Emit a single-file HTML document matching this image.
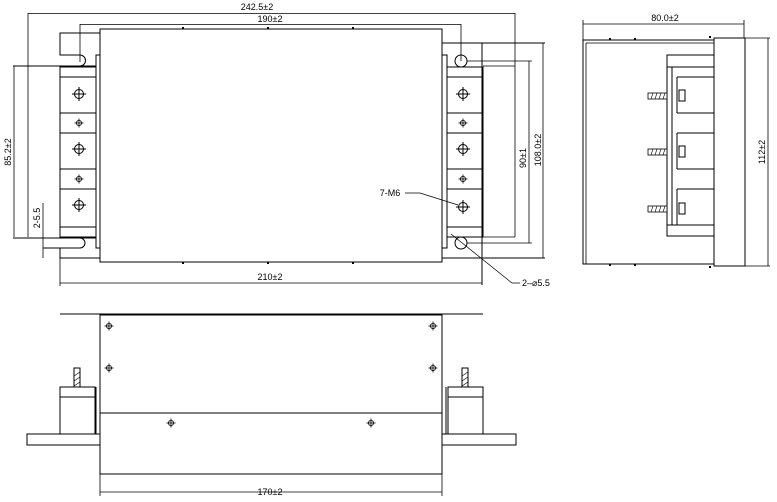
<!DOCTYPE html>
<html><head><meta charset="utf-8"><style>
html,body{margin:0;padding:0;background:#fff;}
svg{display:block;}
text{font-family:"Liberation Sans",sans-serif;font-size:9px;fill:#000;}
</style></head><body>
<svg width="777" height="502" viewBox="0 0 777 502" xmlns="http://www.w3.org/2000/svg">
<defs>
<g id="big"><circle r="4.5" fill="none" stroke="#000" stroke-width="1"/><line x1="-7" y1="0" x2="7" y2="0" stroke="#000"/><line x1="0" y1="-7" x2="0" y2="7" stroke="#000"/></g>
<g id="sm"><circle r="2.6" fill="none" stroke="#000" stroke-width="0.8"/><line x1="-4.5" y1="0" x2="4.5" y2="0" stroke="#000" stroke-width="0.8"/><line x1="0" y1="-4.5" x2="0" y2="4.5" stroke="#000" stroke-width="0.8"/></g>
<g id="stud"><rect x="0" y="0" width="19" height="6" fill="#fff" stroke="#000" stroke-width="0.8"/><path d="M3 6L5 0M7 6L9 0M11 6L13 0M15 6L17 0" stroke="#000" stroke-width="0.6"/></g>
</defs>
<g fill="none" stroke="#000" stroke-width="1">
<line x1="28" y1="13.5" x2="515" y2="13.5" stroke-width="0.8"/>
<line x1="80" y1="24.5" x2="461" y2="24.5" stroke-width="0.8"/>
<line x1="28" y1="13" x2="28" y2="237" stroke-width="0.8"/>
<line x1="515" y1="13" x2="515" y2="237" stroke-width="0.8"/>
<line x1="80" y1="24" x2="80" y2="62" stroke-width="0.8"/>
<line x1="461" y1="24" x2="461" y2="61" stroke-width="0.8"/>
<rect x="100" y="29" width="342" height="233"/>
<rect x="96" y="55" width="4" height="193"/>
<rect x="442" y="55" width="5" height="193"/>
<rect x="60" y="67" width="36" height="170"/>
<path d="M60 77H96M60 113H96M60 133H96M60 169H96M60 189H96M60 227H96"/>
<path d="M100 33H60V55H80"/>
<path d="M80 55A5 5 0 0 1 80 66"/>
<line x1="13" y1="66" x2="96" y2="66"/>
<line x1="13" y1="238" x2="96" y2="238"/>
<path d="M80 238A5 5 0 0 1 80 248H43"/>
<path d="M60 248V258H100"/>
<line x1="60" y1="258" x2="60" y2="286" stroke-width="0.8"/>
<line x1="14" y1="66" x2="14" y2="237" stroke-width="0.8"/>
<line x1="43" y1="203" x2="43" y2="258" stroke-width="0.8"/>
<rect x="447" y="67" width="36" height="170"/>
<path d="M447 77H483M447 113H483M447 133H483M447 169H483M447 189H483M447 227H483"/>
<path d="M442 43H545M442 258H545M482 43V285"/>
<circle cx="461" cy="61" r="6"/>
<circle cx="461" cy="243" r="6"/>
<path d="M467 61H532M467 243H532" stroke-width="0.8"/>
<line x1="529" y1="61" x2="529" y2="243" stroke-width="0.8"/>
<line x1="543" y1="43" x2="543" y2="258" stroke-width="0.8"/>
<path d="M483 66H515M483 237H515" stroke-width="0.8"/>
<line x1="60" y1="283" x2="482" y2="283" stroke-width="0.8"/>
<path d="M405 193H420L458 205" stroke-width="0.7"/>
<path d="M451 234L512 283H520" stroke-width="0.7"/>
<path d="M183 29V27M268 29V27M353 29V27M183 262V264M268 262V264M353 262V264" stroke-width="2"/>
</g>
<g>
<use href="#big" x="79" y="94"/><use href="#sm" x="79" y="123"/><use href="#big" x="79" y="149"/><use href="#sm" x="79" y="179"/><use href="#big" x="79" y="205"/>
<use href="#big" x="463" y="94"/><use href="#sm" x="463" y="123"/><use href="#big" x="463" y="149"/><use href="#sm" x="463" y="179"/><use href="#big" x="463" y="207"/>
</g>
<text x="257" y="10" text-anchor="middle">242.5±2</text>
<text x="270" y="22" text-anchor="middle">190±2</text>
<text x="270" y="280" text-anchor="middle">210±2</text>
<text x="390" y="196" text-anchor="middle">7-M6</text>
<text x="522" y="286">2–⌀5.5</text>
<text transform="translate(11,152) rotate(-90)" text-anchor="middle">85.2±2</text>
<text transform="translate(40,218) rotate(-90)" text-anchor="middle">2-5.5</text>
<text transform="translate(526,158) rotate(-90)" text-anchor="middle">90±1</text>
<text transform="translate(541,150) rotate(-90)" text-anchor="middle">108.0±2</text>

<g fill="none" stroke="#000" stroke-width="1">
<line x1="583" y1="24" x2="744" y2="24" stroke-width="0.8"/>
<path d="M583 20V40M744 20V38" stroke-width="0.8"/>
<rect x="583" y="40" width="131" height="224"/>
<path d="M586 43H714M586 43V264" stroke-width="0.8"/>
<rect x="714" y="38" width="31" height="228"/>
<path d="M745 38H770M745 266H770" stroke-width="0.8"/>
<line x1="768" y1="38" x2="768" y2="266" stroke-width="0.8"/>
<rect x="667" y="55" width="47" height="181"/>
<path d="M667 67H714M667 225H714M672 67V225"/>
<path d="M677 77H714M677 113H714M677 77V113M677 133H714M677 169H714M677 133V169M677 189H714M677 225H714M677 189V225"/>
<rect x="679" y="90" width="6" height="11"/><rect x="679" y="146" width="6" height="11"/><rect x="679" y="203" width="6" height="11"/>
<path d="M610 40V38M635 40V38M710 38V36M610 264V266M635 264V266M710 266V268" stroke-width="2"/>
</g>
<use href="#stud" x="648" y="93"/><use href="#stud" x="648" y="149"/><use href="#stud" x="648" y="206"/>
<text x="665" y="21" text-anchor="middle">80.0±2</text>
<text transform="translate(765,152) rotate(-90)" text-anchor="middle">112±2</text>

<g fill="none" stroke="#000" stroke-width="1">
<line x1="60" y1="314" x2="483" y2="314"/>
<rect x="100" y="315" width="342" height="159"/>
<line x1="100" y1="413" x2="442" y2="413"/>
<line x1="100" y1="474" x2="100" y2="496" stroke-width="0.8"/>
<line x1="442" y1="474" x2="442" y2="496" stroke-width="0.8"/>
<line x1="100" y1="492" x2="442" y2="492" stroke-width="0.8"/>
<rect x="27" y="434" width="73" height="11"/>
<rect x="60" y="387" width="35" height="47"/><line x1="60" y1="397" x2="95" y2="397"/>
<line x1="96" y1="387" x2="96" y2="434"/>
<rect x="74" y="368" width="6" height="19"/>
<rect x="442" y="434" width="74" height="11"/>
<rect x="448" y="387" width="35" height="47"/><line x1="448" y1="397" x2="483" y2="397"/>
<line x1="446" y1="387" x2="446" y2="434"/>
<rect x="462" y="368" width="6" height="19"/>
<path d="M74 376L80 372M74 381L80 377M74 386L80 382M462 376L468 372M462 381L468 377M462 386L468 382" stroke-width="0.6"/>
</g>
<use href="#sm" x="109" y="326"/><use href="#sm" x="109" y="368"/><use href="#sm" x="433" y="326"/><use href="#sm" x="433" y="368"/><use href="#sm" x="171" y="423"/><use href="#sm" x="371" y="423"/>
<text x="270" y="495" text-anchor="middle">170±2</text>
</svg>
</body></html>
